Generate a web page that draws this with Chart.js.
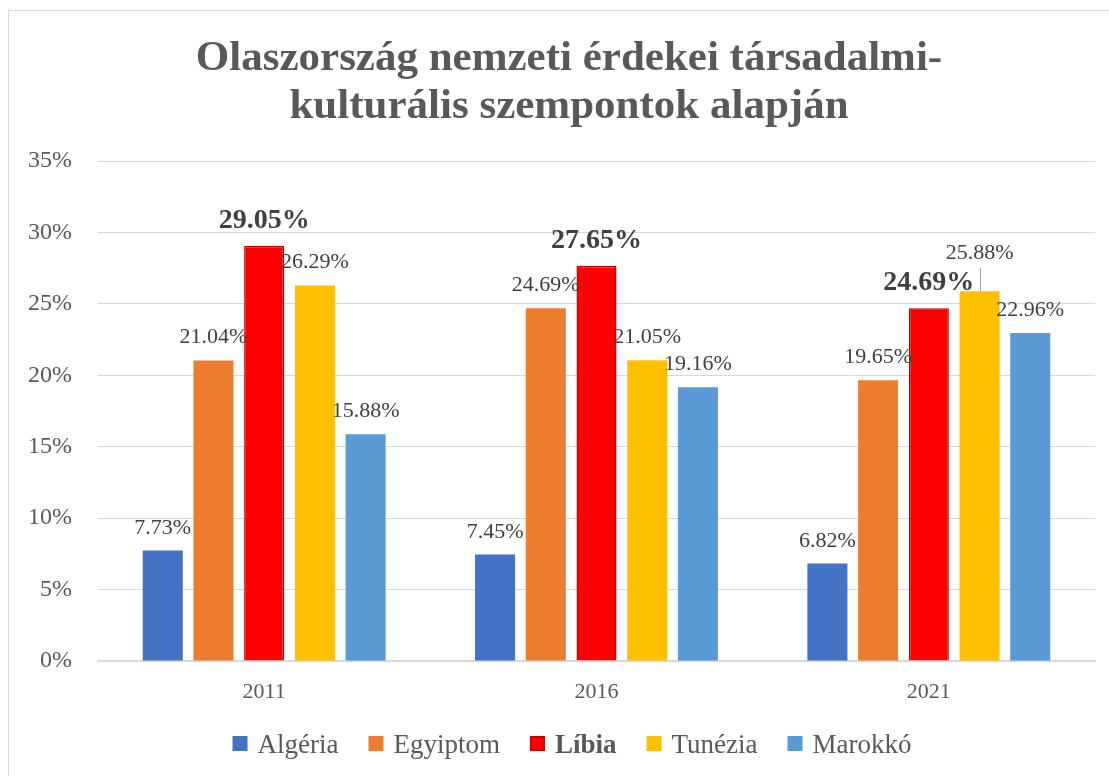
<!DOCTYPE html>
<html>
<head>
<meta charset="utf-8">
<script src="https://cdn.jsdelivr.net/npm/chart.js@4.4.1/dist/chart.umd.min.js"></script>
<style>
  body { margin: 0; background: #fff; overflow: hidden; }
  #frame { position: absolute; left: 8px; top: 10px; width: 1130px; height: 800px; border: 1px solid #d9d9d9; }
  #wrap { position: absolute; left: 0; top: 0; width: 1109px; height: 776px; }
</style>
</head>
<body>
<div id="frame"></div>
<div id="wrap"><canvas id="grafica"></canvas></div>
<script>
const titulo = ["Olaszország nemzeti érdekei társadalmi-", "kulturális szempontok alapján"];
const anios = ["2011", "2016", "2021"];
const paises = ["Algéria", "Egyiptom", "Líbia", "Tunézia", "Marokkó"];
const algeria = [7.73, 7.45, 6.82];
const egyiptom = [21.04, 24.69, 19.65];
const libia = [29.05, 27.65, 24.69];
const tunezia = [26.29, 21.05, 25.88];
const marokko = [15.88, 19.16, 22.96];
const yTicks = [0, 5, 10, 15, 20, 25, 30, 35];

const colores = ["#4472C4", "#ED7D31", "#FF0000", "#FFC000", "#5B9BD5"];
const serie = [algeria, egyiptom, libia, tunezia, marokko];
const FONT = "'Liberation Serif', 'Times New Roman', serif";

// titulo, etiquetas y leyenda dibujados a mano
const extras = {
  id: "extras",
  afterDraw(chart) {
    const ctx = chart.ctx;
    const cx = 569;
    ctx.save();
    // titulo
    ctx.fillStyle = "#595959";
    ctx.font = "bold 43px " + FONT;
    ctx.textAlign = "center";
    ctx.textBaseline = "alphabetic";
    ctx.fillText(titulo[0], cx, 70);
    ctx.fillText(titulo[1], cx, 118);

    // etiquetas de datos
    chart.data.datasets.forEach((ds, di) => {
      const meta = chart.getDatasetMeta(di);
      meta.data.forEach((bar, i) => {
        const bold = di === 2;
        ctx.font = (bold ? "bold 28px " : "22px ") + FONT;
        ctx.fillStyle = "#404040";
        let y = bar.y - (bold ? 18 : 17);
        if (di === 3 && i === 2) {
          y -= 15;
          ctx.strokeStyle = "#a6a6a6";
          ctx.lineWidth = 1;
          ctx.beginPath();
          ctx.moveTo(Math.round(bar.x) + 0.5, y + 9);
          ctx.lineTo(Math.round(bar.x) + 0.5, bar.y);
          ctx.stroke();
        }
        ctx.fillText(ds.data[i].toFixed(2) + "%", bar.x, y);
      });
    });

    // leyenda
    const box = 15, gapTxt = 10, gapItem = 30, base = 753;
    const items = chart.data.datasets.map((ds, di) => {
      const f = (di === 2 ? "bold 27px " : "27px ") + FONT;
      ctx.font = f;
      return { text: ds.label, font: f, color: ds.backgroundColor, border: di === 2, w: ctx.measureText(ds.label).width };
    });
    const total = items.reduce((t, it) => t + box + gapTxt + it.w, 0) + gapItem * (items.length - 1);
    let x = cx + 3 - total / 2;
    ctx.textAlign = "left";
    items.forEach((it) => {
      ctx.fillStyle = it.color;
      ctx.fillRect(x, base - 17, box, box);
      if (it.border) {
        ctx.strokeStyle = "#C00000";
        ctx.lineWidth = 1.5;
        ctx.strokeRect(x + 0.75, base - 16.25, box - 1.5, box - 1.5);
      }
      x += box + gapTxt;
      ctx.font = it.font;
      ctx.fillStyle = "#595959";
      ctx.fillText(it.text, x, base);
      x += it.w + gapItem;
    });
    ctx.restore();
  },
};

const cxt = document.getElementById("grafica");
const myChart = new Chart(cxt, {
  type: "bar",
  data: {
    labels: anios,
    datasets: paises.map((p, i) => ({
      label: p,
      data: serie[i],
      backgroundColor: colores[i],
      borderColor: i === 2 ? "#C00000" : colores[i],
      borderWidth: i === 2 ? 1.5 : 0,
      categoryPercentage: 0.763,
      barPercentage: 0.79,
    })),
  },
  options: {
    responsive: true,
    maintainAspectRatio: false,
    animation: false,
    layout: { padding: { top: 161, right: 14, left: 0, bottom: 0 } },
    plugins: {
      legend: { display: false },
      title: { display: false },
      tooltip: { enabled: false },
    },
    scales: {
      x: {
        grid: { display: false },
        border: { color: "#d9d9d9", width: 2 },
        ticks: { color: "#595959", font: { family: FONT, size: 22 }, padding: 10 },
        afterFit: (scale) => { scale.height = 115; },
      },
      y: {
        min: 0,
        max: 35,
        afterBuildTicks: (scale) => { scale.ticks = yTicks.map((v) => ({ value: v })); },
        grid: { color: "#d9d9d9", drawTicks: false },
        border: { display: false },
        ticks: {
          color: "#595959",
          font: { family: FONT, size: 24 },
          padding: 26,
          callback: (v) => v + "%",
        },
        afterFit: (scale) => { scale.width = 98; },
      },
    },
  },
  plugins: [extras],
});
</script>
</body>
</html>
